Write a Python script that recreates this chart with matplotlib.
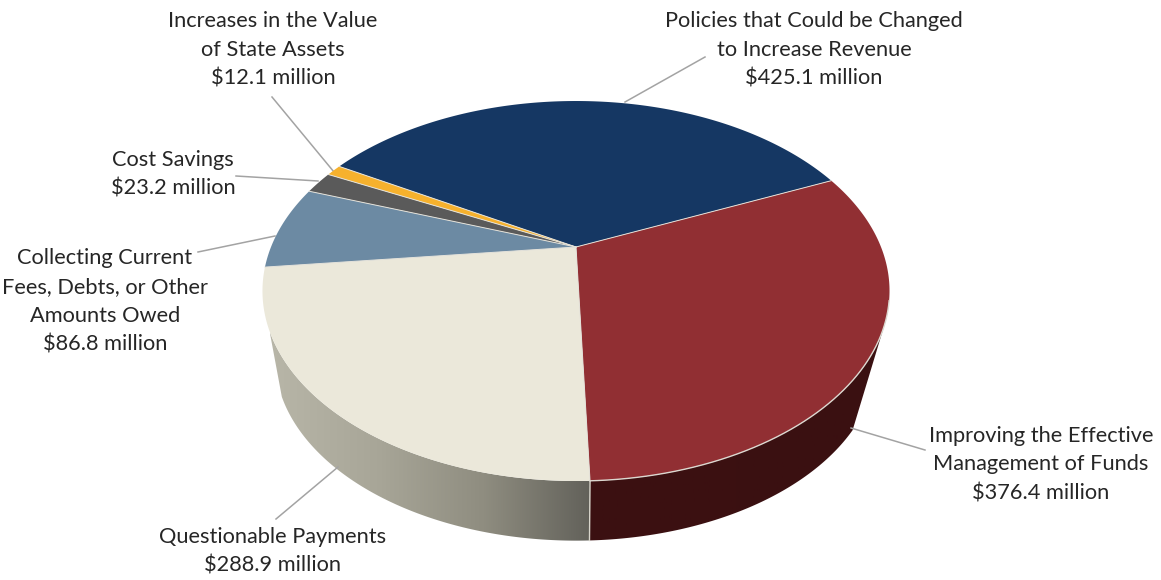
import numpy as np
import matplotlib.pyplot as plt
from matplotlib.colors import LinearSegmentedColormap
from matplotlib.patches import Polygon

labels = ['Policies that Could be Changed\nto Increase Revenue\n$425.1 million',
          'Improving the Effective\nManagement of Funds\n$376.4 million',
          'Questionable Payments\n$288.9 million',
          'Collecting Current\nFees, Debts, or Other\nAmounts Owed\n$86.8 million',
          'Cost Savings\n$23.2 million',
          'Increases in the Value\nof State Assets\n$12.1 million']
values = [425.1, 376.4, 288.9, 86.8, 23.2, 12.1]
colors = ['#153763', '#912f33', '#ebe8da', '#6c8aa3', '#5a5a5a', '#f6b12d']

label_x = [814, 1041, 273, 105, 173, 273]
label_y = [49, 464, 551, 301, 173.5, 49]
leader_a = [(705, 57), (851, 428), (338, 467), (198, 252), (236, 176), (272, 97)]
leader_b = [(625, 102), (925, 450), (276, 519), (275, 236), (318, 181), (334, 172)]

start_angle = 150
cx, cy = 576, 247
a, b, k = 305, 179.8, 0.2316
side_scale, side_drop = 0.96, 69

plt.rcParams['font.family'] = ['Lato', 'DejaVu Sans']


def top_xy(t):
    # persective view of the pie disc
    u, v = np.cos(np.radians(t)), np.sin(np.radians(t))
    w = 1 + k * v
    return cx + a * u / w, cy - b * v / w


def bottom_xy(t):
    x, y = top_xy(t)
    return cx + side_scale * (x - cx), cy + side_drop + side_scale * (y - cy)


fig = plt.figure(figsize=(11.61, 5.8), dpi=100)
ax = fig.add_axes([0, 0, 1, 1])

angles = start_angle - np.cumsum([0] + values) / sum(values) * 360

# side walls, only red and cream can be seen. ends are where the wall leaves the disc
side_cmap = [LinearSegmentedColormap.from_list('r', ['#3c1012', '#3a1011']),
             LinearSegmentedColormap.from_list('c', ['#b8b6a8', '#a8a698', '#8f8d80', '#62615a'])]
wall_top_end = [-24, -155]
wall_bottom_end = [-35, -155]
for i in range(2):
    tx, ty = top_xy(np.linspace(angles[2], wall_top_end[i], 200))
    bx, by = bottom_xy(np.linspace(angles[2], wall_bottom_end[i], 200))
    poly = Polygon(np.column_stack([np.r_[tx, bx[::-1]], np.r_[ty, by[::-1]]]), transform=ax.transData,
                   facecolor='none', edgecolor='none')
    ax.add_patch(poly)
    x0, x1 = min(tx.min(), bx.min()), max(tx.max(), bx.max())
    grad = np.linspace(0, 1, 256).reshape(1, -1)
    im = ax.imshow(grad, extent=(x0, x1, 560, 100), cmap=side_cmap[i], aspect='auto', zorder=1)
    im.set_clip_path(poly)

bx, by = bottom_xy(angles[2])
tx, ty = top_xy(angles[2])
ax.plot([tx, bx], [ty, by], color='#d8d6cc', lw=1, zorder=2)

for i in range(len(values)):
    tx, ty = top_xy(np.linspace(angles[i], angles[i + 1], 200))
    ax.fill(np.r_[cx, tx], np.r_[cy, ty], facecolor=colors[i], edgecolor='none', zorder=3)
    ax.plot([cx, tx[-1]], [cy, ty[-1]], color='#e4e2da', lw=0.7, zorder=3.1)

# light rim on the red slice
tx, ty = top_xy(np.linspace(angles[1] - 40, angles[2], 200))
ax.plot(tx, ty, color='#dcd8d0', lw=1, zorder=3.1)

for i in range(len(values)):
    ax.plot([leader_a[i][0], leader_b[i][0]], [leader_a[i][1], leader_b[i][1]], color='#a3a3a3', lw=1.1, zorder=2)
    ax.text(label_x[i], label_y[i] + 0.5, labels[i], ha='center', va='center', fontsize=15.7,
            color='#262626', linespacing=1.56, zorder=4)

ax.set_xlim(0, 1161)
ax.set_ylim(580, 0)
ax.axis('off')
fig.savefig('out.png', dpi=100)
